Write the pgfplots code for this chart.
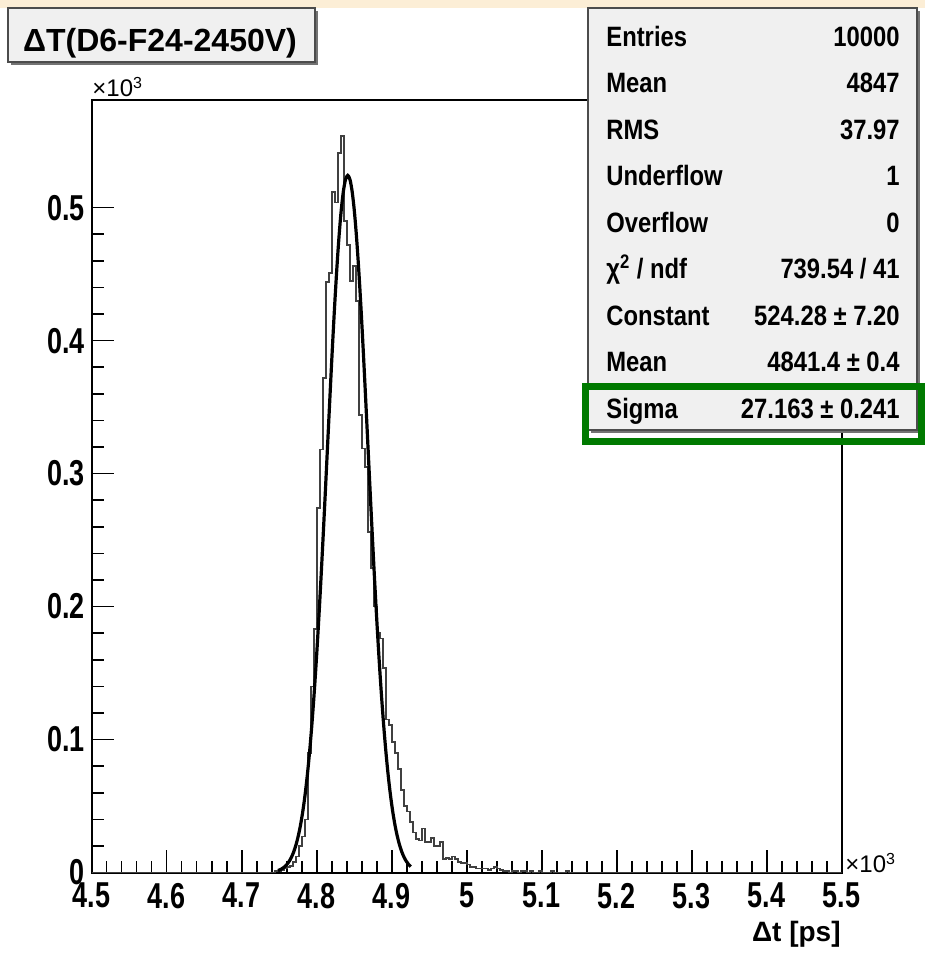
\documentclass[border=0pt]{standalone}
\usepackage{fontspec}
\setmainfont{Liberation Sans}
\usepackage{graphicx}
\usepackage{pgfplots}
\pgfplotsset{compat=1.18}
\definecolor{gbox}{RGB}{0,122,0}
\definecolor{peach}{RGB}{252,238,214}
\definecolor{boxfill}{RGB}{240,240,240}
\newcommand{\nar}[1]{\scalebox{0.75}[1]{#1}}
\newcommand{\snar}[1]{\scalebox{0.85}[1]{#1}}
\begin{document}
\begin{tikzpicture}[x=1pt,y=1pt]
\useasboundingbox (-45.85,-40.25) rectangle (416.65,436.25);
\fill[peach] (-45.85,432.25) rectangle (416.65,436.25);
\begin{axis}[
  at={(0,0)}, anchor=south west,
  scale only axis, width=375pt, height=386.25pt,
  xmin=4500, xmax=5500, ymin=0, ymax=581,
  axis line style={line width=1pt},
  every tick/.style={line width=0.8pt, black},
  tick align=inside,
  xtick pos=left, ytick pos=left,
  major tick length=11pt, minor tick length=6pt,
  xtick={4500,4600,4700,4800,4900,5000,5100,5200,5300,5400,5500},
  xticklabels={\nar{4.5},\nar{4.6},\nar{4.7},\nar{4.8},\nar{4.9},\nar{5},\nar{5.1},\nar{5.2},\nar{5.3},\nar{5.4},\nar{5.5}},
  ytick={0,100,200,300,400,500},
  yticklabels={\nar{0},\nar{0.1},\nar{0.2},\nar{0.3},\nar{0.4},\nar{0.5}},
  minor x tick num=4, minor y tick num=4,
  scaled ticks=false,
  ticklabel style={font=\fontsize{18}{20}\selectfont\bfseries},
  xticklabel style={anchor=north, inner sep=0pt, yshift=-5pt},
  yticklabel style={anchor=east, inner sep=0pt, xshift=-3.3pt},
]
% histogram (bin left edges, 4 ps bins)
\addplot[const plot, line width=0.8pt, black!75] coordinates {
(4500,0) (4744,1) (4748,1) (4752,2) (4756,3) (4760,4) (4764,5) (4768,8) (4772,12) (4776,20)
(4780,27) (4784,40) (4788,90) (4792,140) (4796,183) (4800,274) (4804,318) (4808,372) (4812,444) (4816,451)
(4820,512) (4824,504) (4828,541) (4832,554) (4836,490) (4840,472) (4844,445) (4848,456) (4852,430) (4856,344)
(4860,319) (4864,305) (4868,256) (4872,229) (4876,200) (4880,180) (4884,176) (4888,154) (4892,115) (4896,111)
(4900,98) (4904,90) (4908,78) (4912,62) (4916,50) (4920,46) (4924,38) (4928,30) (4932,25) (4936,24)
(4940,33) (4944,23) (4948,23) (4952,26) (4956,20) (4960,20) (4964,23) (4968,10) (4972,11) (4976,10)
(4980,12) (4984,10) (4988,8) (4992,7) (4996,7) (5000,6) (5004,4) (5008,4) (5012,3) (5016,3)
(5020,3) (5024,3) (5028,2) (5032,3) (5036,4) (5040,3) (5044,2) (5048,1) (5052,1) (5056,0)
(5060,1) (5064,1) (5068,0) (5072,1) (5076,1) (5080,0) (5084,1) (5088,0) (5096,1) (5100,0)
(5112,1) (5116,0) (5132,1) (5136,0) (5500,0)
};
% gaussian fit
\addplot[smooth, line width=1.6pt, black] coordinates {
(4748.4,1.49) (4751.4,2.17) (4754.4,3.10) (4757.4,4.39) (4760.4,6.15) (4763.4,8.49) (4766.4,11.59) (4769.4,15.63)
(4772.4,20.82) (4775.4,27.40) (4778.4,35.61) (4781.4,45.73) (4784.4,58.00) (4787.4,72.68) (4790.4,89.97) (4793.4,110.03)
(4796.4,132.92) (4799.4,158.65) (4802.4,187.04) (4805.4,217.84) (4808.4,250.65) (4811.4,284.88) (4814.4,319.90) (4817.4,354.86)
(4820.4,388.85) (4823.4,420.93) (4826.4,450.14) (4829.4,475.54) (4832.4,496.28) (4835.4,511.65) (4838.4,521.09) (4841.4,524.28)
(4844.4,521.09) (4847.4,511.65) (4850.4,496.28) (4853.4,475.54) (4856.4,450.14) (4859.4,420.93) (4862.4,388.85) (4865.4,354.86)
(4868.4,319.90) (4871.4,284.88) (4874.4,250.65) (4877.4,217.84) (4880.4,187.04) (4883.4,158.65) (4886.4,132.92) (4889.4,110.03)
(4892.4,89.97) (4895.4,72.68) (4898.4,58.00) (4901.4,45.73) (4904.4,35.61) (4907.4,27.40) (4910.4,20.82) (4913.4,15.63)
(4916.4,11.59) (4919.4,8.49) (4922.4,6.15) (4925.4,4.39)
};
\end{axis}
% axis exponents and title
\node[anchor=base west, inner sep=0pt, font=\fontsize{12}{14}\selectfont] at (0.15,387.75) {×10\textsuperscript{3}};
\node[anchor=base west, inner sep=0pt, font=\fontsize{12}{14}\selectfont] at (376.65,-0.25) {×10\textsuperscript{3}};
\node[anchor=base east, inner sep=0pt, font=\fontsize{14}{16}\selectfont\bfseries] at (374.65,-34.6) {Δt [ps]};
% title box
\fill[black!55] (-40.35,403.75) rectangle (113.15,430.75);
\filldraw[fill=boxfill, draw=black!70, line width=0.6pt] (-41.85,405.25) rectangle (111.65,432.25);
\node[anchor=base, inner sep=0pt, font=\fontsize{16}{18}\selectfont\bfseries] at (34.15,410.4) {ΔT(D6-F24-2450V)};
% stats box
\fill[black!55] (249.65,219.75) rectangle (414.15,430.75);
\filldraw[fill=boxfill, draw=black!70, line width=0.6pt] (248.15,221.25) rectangle (412.65,432.25);
\begin{scope}[every node/.style={inner sep=0pt, font=\fontsize{14}{16}\selectfont\bfseries}]
\node[anchor=base west] at (257.15,413.0) {\snar{Entries}};
\node[anchor=base east] at (404.15,413.0) {\snar{10000}};
\node[anchor=base west] at (257.15,389.75) {\snar{Mean}};
\node[anchor=base east] at (404.15,389.75) {\snar{4847}};
\node[anchor=base west] at (257.15,366.55) {\snar{RMS}};
\node[anchor=base east] at (404.15,366.55) {\snar{37.97}};
\node[anchor=base west] at (257.15,343.3) {\snar{Underflow}};
\node[anchor=base east] at (404.15,343.3) {\snar{1}};
\node[anchor=base west] at (257.15,320.1) {\snar{Overflow}};
\node[anchor=base east] at (404.15,320.1) {\snar{0}};
\node[anchor=base west] at (257.15,296.85) {\snar{χ\textsuperscript{2} / ndf}};
\node[anchor=base east] at (404.15,296.85) {\snar{739.54 / 41}};
\node[anchor=base west] at (257.15,273.65) {\snar{Constant}};
\node[anchor=base east] at (404.15,273.65) {\snar{524.28 ± 7.20}};
\node[anchor=base west] at (257.15,250.4) {\snar{Mean}};
\node[anchor=base east] at (404.15,250.4) {\snar{4841.4 ± 0.4}};
\node[anchor=base west] at (257.15,227.2) {\snar{Sigma}};
\node[anchor=base east] at (404.15,227.2) {\snar{27.163 ± 0.241}};
\end{scope}
% green highlight
\draw[gbox, line width=3.5pt] (246.65,242.75) rectangle (414.65,215.25);
\end{tikzpicture}
\end{document}
